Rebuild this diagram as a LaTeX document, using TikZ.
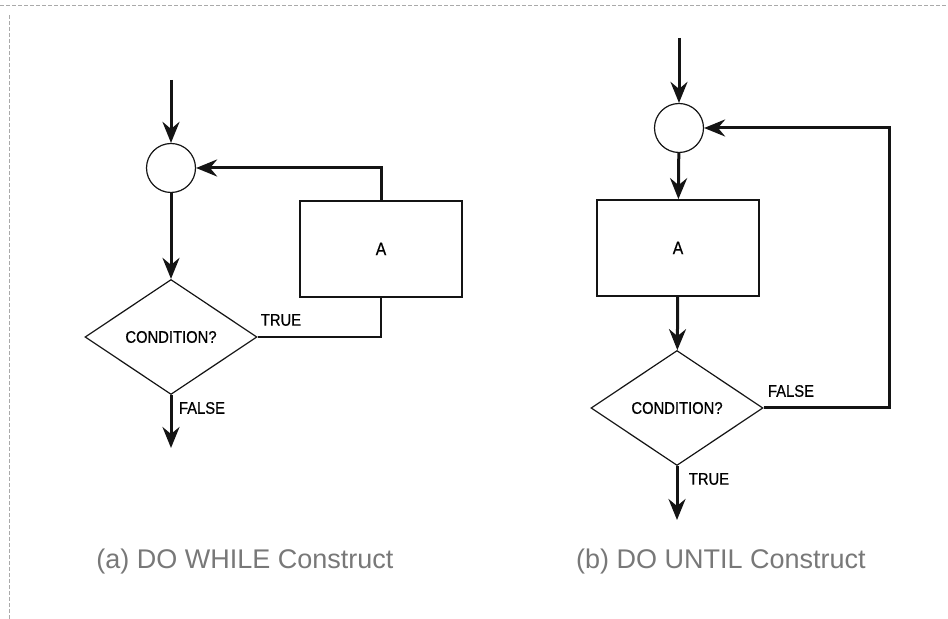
\documentclass[tikz,border=0pt]{standalone}
\usepackage{fontspec}
\setmainfont{Liberation Sans}
\newfontfamily\fclabel[FakeStretch=0.88,FakeBold=0.6]{Liberation Sans}
\usetikzlibrary{arrows.meta,positioning,shapes.geometric}
\definecolor{fcline}{RGB}{20,20,20}
\definecolor{fccap}{RGB}{120,120,120}
\definecolor{fcedge}{RGB}{170,170,170}
\tikzset{
  junction/.style={circle,draw=fcline,line width=0.6pt,fill=white,
                   minimum size=24.5pt,inner sep=0pt},
  process/.style={rectangle,draw=fcline,line width=0.85pt,fill=white,
                  minimum width=81pt,minimum height=48pt,inner sep=0pt,
                  font=\fclabel\fontsize{9}{10}\selectfont},
  decision/.style={diamond,draw=fcline,line width=0.6pt,fill=white,
                   minimum width=86pt,minimum height=57.5pt,inner sep=0pt,
                   font=\fclabel\fontsize{8.4}{10}\selectfont},
  flow/.style={-{Stealth[length=10.5pt,width=8.5pt,inset=3.5pt]},
               draw=fcline,line width=1.5pt},
  loopline/.style={draw=fcline,line width=1.2pt},
  lbl/.style={font=\fclabel\fontsize{8.4}{10}\selectfont,inner sep=0pt},
  caption/.style={font=\fontsize{13.5}{16}\selectfont,text=fccap,inner sep=0pt},
  scanedge/.style={draw=fcedge,line width=0.4pt,dash pattern=on 2pt off 1pt},
}
\begin{document}
\begin{tikzpicture}[x=0.5pt,y=-0.5pt]
  \useasboundingbox (0,0) rectangle (948,619);
  % scanned page edge
  \coordinate (e0) at (0,5);
  \coordinate (e1) at (948,5);
  \coordinate (e2) at (9,15);
  \coordinate (e3) at (9,619);
  \draw[scanedge] (e0) -- (e1);
  \draw[scanedge] (e2) -- (e3);
  % (a) DO WHILE
  \coordinate (inl) at (171,80);
  \node[junction] (cl) at (171,168) {};
  \node[decision] (dl) at (171,337) {CONDITION?};
  \node[process]  (al) at (381,249) {A};
  \coordinate (outl) at (171,448);
  \draw[flow] (inl) -- (cl);
  \draw[flow] (cl) -- (dl);
  \draw[flow] (dl) -- (outl);
  \draw[loopline] (dl.east) -| (al.south);
  \draw[flow] (al.north) |- (cl.east);
  \node[lbl] (tl) at (281,320) {TRUE};
  \node[lbl] (fl) at (202,408) {FALSE};
  \node[caption] (capa) at (245,562) {(a) DO WHILE Construct};
  % (b) DO UNTIL
  \coordinate (inr) at (679,38);
  \node[junction] (cr) at (679,128) {};
  \node[process]  (ar) at (678,248) {A};
  \node[decision] (dr) at (677,408) {CONDITION?};
  \coordinate (outr) at (677,520);
  \coordinate (rt) at (889,128);
  \draw[flow] (inr) -- (cr);
  \draw[flow] (cr) -- (ar);
  \draw[flow] (ar) -- (dr);
  \draw[flow] (dr) -- (outr);
  \draw[flow] (dr.east) -| (rt) -- (cr.east);
  \node[lbl] (fr) at (791,391) {FALSE};
  \node[lbl] (tr) at (709,479) {TRUE};
  \node[caption] (capb) at (721,562) {(b) DO UNTIL Construct};
\end{tikzpicture}
\end{document}
